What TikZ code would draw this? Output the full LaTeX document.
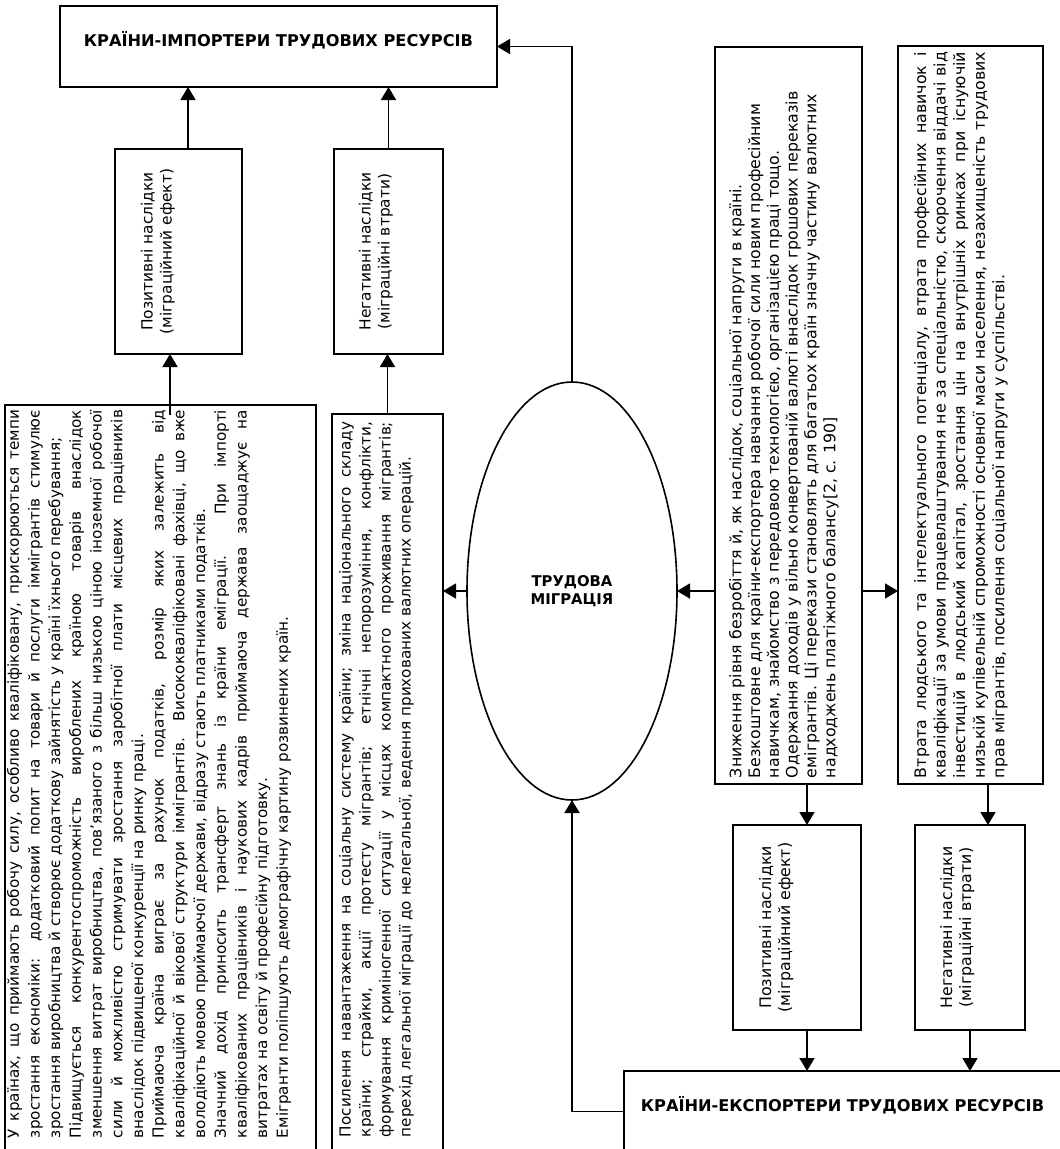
\documentclass[tikz,border=0pt]{standalone}
\usepackage{fontspec}
\setmainfont{DejaVu Sans}
\usetikzlibrary{shapes.geometric,arrows.meta}

\tikzset{
  box/.style={draw, line width=1.6pt, inner sep=0pt, outer sep=0pt},
  headbox/.style={box, minimum width=437pt, minimum height=81pt,
    font=\bfseries\fontsize{16.2}{19}\selectfont, text height=10pt, text depth=10pt},
  sidebox/.style={box, rotate=90, anchor=north east},
  arr/.style={line width=1.6pt, -{Triangle[length=13pt,width=15pt]}}
}
\newcommand{\sidetxt}[5]{\parbox[c][#1][t]{#2}{\fontsize{#3}{#4}\selectfont #5}}

\begin{document}
\begin{tikzpicture}[x=1pt, y=-1pt]
\useasboundingbox (0,0) rectangle (1060,1149);

\node[headbox] (importers) at (278.5,46.5) {КРАЇНИ-ІМПОРТЕРИ ТРУДОВИХ РЕСУРСІВ};
\node[headbox, anchor=north west] (exporters) at (624,1071) {КРАЇНИ-ЕКСПОРТЕРИ ТРУДОВИХ РЕСУРСІВ};

\node[sidebox, inner xsep=10pt, inner ysep=26pt] (imppos) at (115,149)
  {\sidetxt{75pt}{185pt}{15.4}{19}{\centering Позитивні наслідки\\(міграційний ефект)}};
\node[sidebox, inner xsep=10pt, inner ysep=25pt] (impneg) at (334,149)
  {\sidetxt{59pt}{185pt}{15.4}{19}{\centering Негативні наслідки\\(міграційні втрати)}};

\node[sidebox, inner xsep=5pt, inner ysep=2pt] (imppostxt) at (5,405)
  {\hspace*{25pt}\sidetxt{307pt}{728pt}{15.2}{20.7}{%
У країнах, що приймають робочу силу, особливо кваліфіковану, прискорюються темпи\linebreak
зростання економіки: додатковий попит на товари й послуги іммігрантів стимулює\linebreak
зростання виробництва й створює додаткову зайнятість у країні їхнього перебування;\par
Підвищується конкурентоспроможність вироблених країною товарів внаслідок\linebreak
зменшення витрат виробництва, пов'язаного з більш низькою ціною іноземної робочої\linebreak
сили й можливістю стримувати зростання заробітної плати місцевих працівників\linebreak
внаслідок підвищеної конкуренції на ринку праці.\par
Приймаюча країна виграє за рахунок податків, розмір яких залежить від\linebreak
кваліфікаційної й вікової структури іммігрантів. Висококваліфіковані фахівці, що вже\linebreak
володіють мовою приймаючої держави, відразу стають платниками податків.\par
Значний дохід приносить трансферт знань із країни еміграції. При імпорті\linebreak
кваліфікованих працівників і наукових кадрів приймаюча держава заощаджує на\linebreak
витратах на освіту й професійну підготовку.\par
Емігранти поліпшують демографічну картину розвинених країн.}};

\node[sidebox, inner xsep=8pt, inner ysep=7pt] (impnegtxt) at (332,414)
  {\hspace*{30pt}\sidetxt{97pt}{715pt}{15.2}{20}{%
Посилення навантаження на соціальну систему країни; зміна національного складу\linebreak
країни; страйки, акції протесту мігрантів; етнічні непорозуміння, конфлікти,\linebreak
формування криміногенної ситуації у місцях компактного проживання мігрантів;\linebreak
перехід легальної міграції до нелегальної, ведення прихованих валютних операцій.}};

\node[draw, ellipse, line width=1.6pt, minimum width=210pt, minimum height=418pt,
  inner sep=0pt, outer sep=0pt, align=center, font=\bfseries\fontsize{14.8}{18}\selectfont]
  (migration) at (572,591) {ТРУДОВА\\МІГРАЦІЯ};

\node[sidebox, inner xsep=6pt, inner ysep=14pt] (exppostxt) at (715,47)
  {\sidetxt{119pt}{725pt}{15.8}{18.8}{\raggedright
Зниження рівня безробіття й, як наслідок, соціальної напруги в країні.\\
Безкоштовне для країни-експортера навчання робочої сили новим професійним\\
навичкам, знайомство з передовою технологією, організацією праці тощо.\\
Одержання доходів у вільно конвертованій валюті внаслідок грошових переказів\\
емігрантів. Ці перекази становлять для багатьох країн значну частину валютних\\
надходжень платіжного балансу[2, с. 190]}};

\node[sidebox, inner xsep=6pt, inner ysep=16pt] (expnegtxt) at (898,46)
  {\sidetxt{113pt}{726pt}{15.8}{19.6}{%
Втрата людського та інтелектуального потенціалу, втрата професійних навичок і\linebreak
кваліфікації за умови працевлаштування не за спеціальністю, скорочення віддачі від\linebreak
інвестицій в людський капітал, зростання цін на внутрішніх ринках при існуючій\linebreak
низькій купівельній спроможності основної маси населення, незахищеність трудових\linebreak
прав мігрантів, посилення соціальної напруги у суспільстві.}};

\node[sidebox, inner xsep=10pt, inner ysep=26pt] (exppos) at (733,825)
  {\sidetxt{76pt}{185pt}{15.8}{19}{\centering Позитивні наслідки\\(міграційний ефект)}};
\node[sidebox, inner xsep=10pt, inner ysep=25pt] (expneg) at (915,825)
  {\sidetxt{60pt}{185pt}{15.8}{19}{\centering Негативні наслідки\\(міграційні втрати)}};

\draw[arr] ([xshift=9.5pt]imppos.east) -- ([xshift=9.5pt]imppos.east |- importers.south);
\draw[arr] (impneg.east) -- (impneg.east |- importers.south);
\draw[arr] ([xshift=9.5pt,yshift=-10pt]imppostxt.east) -- ([xshift=9.5pt]imppostxt.east |- imppos.west);
\draw[arr] (impnegtxt.east) -- (impnegtxt.east |- impneg.west);
\draw[arr] (migration.north) |- (importers.east);
\draw[arr] (migration.west) -- (migration.west -| impnegtxt.south);
\draw[arr] (migration.east -| exppostxt.north) -- (migration.east);
\draw[arr] (exppostxt.south |- migration.east) -- (expnegtxt.north |- migration.east);
\draw[arr] (exporters.west) -| (migration.south);
\draw[arr] ([xshift=18.5pt]exppostxt.west) -- ([xshift=18.5pt]exppostxt.west |- exppos.east);
\draw[arr] ([xshift=10pt]exppos.west) -- ([xshift=10pt]exppos.west |- exporters.north);
\draw[arr] ([xshift=17.5pt]expnegtxt.west) -- ([xshift=17.5pt]expnegtxt.west |- expneg.east);
\draw[arr] (expneg.west) -- (expneg.west |- exporters.north);
\end{tikzpicture}
\end{document}
